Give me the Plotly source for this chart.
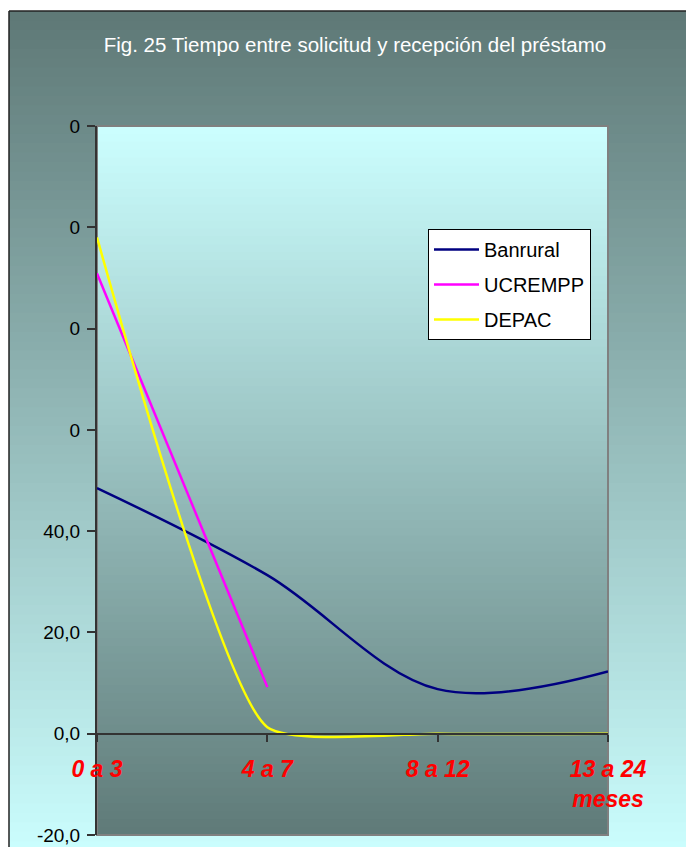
import plotly.graph_objects as go

# ---- data ----
categories = ["0 a 3", "4 a 7", "8 a 12", "13 a 24 meses"]
x_labels = ["0 a 3", "4 a 7", "8 a 12", "13 a 24<br>meses"]
banrural = [48.5, 31.3, 8.8, 12.3]
ucrempp = [90.9, 9.2]
depac = [98.0, 1.3, 0.0, 0.0]
y_ticks = [-20, 0, 20, 40, 60, 80, 100, 120]
y_ticktext = ["-20,0", "0,0", "20,0", "40,0", "0", "0", "0", "0"]
title_text = "Fig. 25 Tiempo entre solicitud y recepción del préstamo"

W, H = 686, 847
ML, MR, MT, MB = 97, 78, 126, 12
PW, PH = W - ML - MR, H - MT - MB

def px2x(px):
    return (px - ML) / PW

def px2y(py):
    return (H - MB - py) / PH

def lerp(c1, c2, t):
    return "rgb(%d,%d,%d)" % tuple(round(a + (b - a) * t) for a, b in zip(c1, c2))

shapes = []
OV = 1.5  # px overlap between gradient strips
# outer gradient (dark top -> light bottom)
N = 90
top_py, bot_py = 11, 860
c_dark_o, c_light_o = (94, 120, 118), (204, 255, 255)
for i in range(N):
    y0 = top_py + (bot_py - top_py) * i / N
    y1 = top_py + (bot_py - top_py) * (i + 1) / N + OV
    shapes.append(dict(type="rect", xref="paper", yref="paper", layer="below",
                       x0=px2x(9), x1=px2x(700), y0=px2y(y1), y1=px2y(y0),
                       fillcolor=lerp(c_dark_o, c_light_o, (i + 0.5) / N),
                       line=dict(width=0)))
# plot area gradient (light top -> dark bottom)
c_light_p, c_dark_p = (204, 255, 255), (95, 122, 120)
ov = OV / PH
for i in range(N):
    shapes.append(dict(type="rect", xref="paper", yref="paper", layer="below",
                       x0=0, x1=1, y0=max(0, 1 - (i + 1) / N - ov), y1=1 - i / N,
                       fillcolor=lerp(c_light_p, c_dark_p, (i + 0.5) / N),
                       line=dict(width=0)))
# plot area border
shapes.append(dict(type="rect", xref="paper", yref="paper", layer="below",
                   x0=0, x1=1, y0=0, y1=1, line=dict(color="#808080", width=2)))
# outer frame border (left & top)
shapes.append(dict(type="line", xref="paper", yref="paper", layer="above",
                   x0=px2x(9), x1=px2x(9), y0=px2y(11), y1=px2y(860),
                   line=dict(color="#222", width=1.5)))
shapes.append(dict(type="line", xref="paper", yref="paper", layer="above",
                   x0=px2x(9), x1=px2x(700), y0=px2y(11), y1=px2y(11),
                   line=dict(color="#222", width=1.5)))

fig = go.Figure()
fig.add_trace(go.Scatter(x=categories, y=banrural, name="Banrural", mode="lines",
                         line=dict(color="#000080", width=2.5, shape="spline", smoothing=1),
                         legendgroup="a"))
fig.add_trace(go.Scatter(x=categories[:2], y=ucrempp, name="UCREMPP", mode="lines",
                         line=dict(color="#FF00FF", width=2.5), legendgroup="b"))
fig.add_trace(go.Scatter(x=categories, y=depac, name="DEPAC", mode="lines",
                         line=dict(color="#FFFF00", width=2.5, shape="spline", smoothing=0.5),
                         legendgroup="c"))

font_fam = "Liberation Sans, Arial, sans-serif"
fig.update_layout(
    width=W, height=H,
    margin=dict(l=ML, r=MR, t=MT, b=MB, autoexpand=False),
    paper_bgcolor="white", plot_bgcolor="rgba(0,0,0,0)",
    font=dict(family=font_fam, color="black"),
    shapes=shapes,
    title=dict(text=title_text, font=dict(size=20.5, color="white", family=font_fam),
               x=px2x(355), xref="paper", xanchor="center",
               y=1 - 45 / H, yref="container", yanchor="middle"),
    legend=dict(x=px2x(428), y=px2y(229), xanchor="left", yanchor="top",
                bgcolor="white", bordercolor="black", borderwidth=1,
                font=dict(size=20, color="black"), tracegroupgap=6,
                traceorder="grouped", itemwidth=45),
    xaxis=dict(type="category", categoryorder="array", categoryarray=categories,
               range=[0, 3], anchor="free", position=20 / 140, automargin=False,
               showline=True, linecolor="#333", linewidth=2,
               ticks="outside", ticklen=7, tickcolor="#333", tickwidth=1.5,
               tickvals=categories, ticktext=x_labels, ticklabelstandoff=8,
               tickfont=dict(size=23, color="#FF0000", weight="bold", style="italic"),
               showgrid=False, zeroline=False),
    yaxis=dict(range=[-20, 120], tickvals=y_ticks, ticktext=y_ticktext,
               automargin=False,
               showline=True, linecolor="#333", linewidth=2,
               ticks="outside", ticklen=8, tickcolor="#333", tickwidth=1.5,
               ticklabelstandoff=3,
               tickfont=dict(size=19, color="black"),
               showgrid=False, zeroline=False),
)

fig.write_html("out.html")
